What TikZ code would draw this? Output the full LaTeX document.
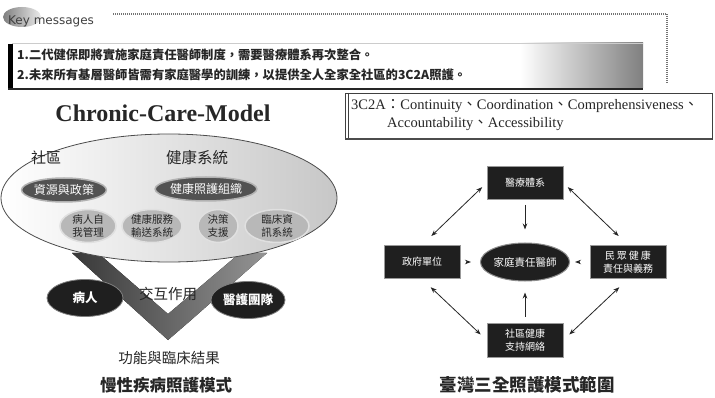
\documentclass[tikz,border=0pt]{standalone}
\usepackage{fontspec}
\setmainfont{Liberation Serif}
\newfontfamily\cjk{Noto Sans CJK TC}
\newfontfamily\kmfont{DejaVu Sans}
\usetikzlibrary{shapes.geometric,arrows.meta}
\newcommand\fsz[2]{\fontsize{#1}{#2}\selectfont}
\newcommand\cj[1]{{\cjk #1}}
\tikzset{
 box/.style={rectangle, fill=black!88, draw=black!40, line width=1pt, minimum width=76pt, minimum height=33pt, text=white, font=\cjk\fsz{10}{13}, align=center, inner sep=1pt},
 arr/.style={-{Stealth[length=6pt,width=4.5pt]}, line width=0.8pt, black!85},
 darr/.style={{Stealth[length=6pt,width=4.5pt]}-{Stealth[length=6pt,width=4.5pt]}, line width=0.8pt, black!85},
 dkell/.style={ellipse, fill=black!68, draw=black!30, line width=1.5pt, text=white, inner sep=0pt, font=\cjk\fsz{12}{14}},
 gyell/.style={ellipse, fill=black!28, draw=black!12, line width=1.5pt, text=black!85, inner sep=0pt, align=center, font=\cjk\fsz{10.5}{13.5}},
 blkell/.style={ellipse, fill=black!88, draw=black!50, line width=0.8pt, text=white, inner sep=0pt, font=\cjk\bfseries\fsz{12.5}{14}},
 lbl/.style={text=black!85, inner sep=0pt},
}
\begin{document}
\begin{tikzpicture}[x=1pt,y=-1pt]
\useasboundingbox (0,0) rectangle (715,398);
\fill[white] (0,0) rectangle (715,398);

% ---------- Key messages ----------
\shade[left color=black!50, right color=black!8] (22,17) ellipse [x radius=19, y radius=10];
\node[anchor=west, font=\kmfont\fsz{12}{14}, text=black!75, inner sep=0pt] (km) at (8,21) {Key messages};
\draw[black!55, line width=1.2pt, dash pattern=on 1pt off 1pt] (113,14) -- (667,14) -- (667,83);
\fill[white] (12,43) rectangle (520,88);
\shade[left color=white, right color=black!50] (520,43) rectangle (643,88);
\draw[black!20, line width=0.6pt] (12,43) -- (643,43);
\fill[black] (8,44) rectangle (13,90);
\draw[black!85, line width=2pt] (8,89) -- (643,89);
\node[anchor=west, lbl, font=\cjk\bfseries\fsz{12.3}{14}] (m1) at (17,55) {1.二代健保即將實施家庭責任醫師制度，需要醫療體系再次整合。};
\node[anchor=west, lbl, font=\cjk\bfseries\fsz{12.3}{14}] (m2) at (17,75) {2.未來所有基層醫師皆需有家庭醫學的訓練，以提供全人全家全社區的3C2A照護。};

% ---------- Chronic Care Model ----------
\node[lbl, font=\bfseries\fsz{24}{26}] (title) at (163,113) {Chronic-Care-Model};
\fill[left color=black!78, right color=black!42]
  (72,253) -- (98,253) -- (168,314) -- (240,253) -- (267,253) -- (190,321) -- (168,340) -- (147,321) -- cycle;
\node[draw=black!70, line width=0.8pt, ellipse, minimum width=336pt, minimum height=128pt,
      left color=white, middle color=white, right color=black!22] (ccm) at (169,198) {};
\node[lbl, font=\cjk\fsz{15}{17}] (sq) at (46,158) {社區};
\node[lbl, font=\cjk\fsz{15.5}{17}] (jk) at (197,158) {健康系統};
\node[dkell, minimum width=78pt, minimum height=24pt] (zy) at (64,190) {資源與政策};
\node[dkell, minimum width=88pt, minimum height=24pt] (zz) at (206,189) {健康照護組織};
\node[gyell, minimum width=56pt, minimum height=29pt] (g1) at (88,226) {病人自\\我管理};
\node[gyell, minimum width=60pt, minimum height=29pt] (g2) at (152,226) {健康服務\\輸送系統};
\node[gyell, minimum width=40pt, minimum height=29pt] (g3) at (218,226) {決策\\支援};
\node[gyell, minimum width=64pt, minimum height=29pt] (g4) at (277,226) {臨床資\\訊系統};
\node[blkell, minimum width=76pt, minimum height=37pt] (br) at (85,298) {病人};
\node[blkell, minimum width=74pt, minimum height=37pt] (yh) at (248,300) {醫護團隊};
\node[lbl, font=\cjk\fsz{14.5}{16}] (hz) at (168,294) {交互作用};
\node[lbl, font=\cjk\fsz{14.5}{16}] (gn) at (169,358) {功能與臨床結果};
\node[lbl, font=\cjk\bfseries\fsz{16.5}{18}] (cap1) at (166,385) {慢性疾病照護模式};

% ---------- 3C2A ----------
\draw[black!75, line width=0.8pt] (345,93) rectangle (712,139);
\draw[black!75, line width=0.6pt] (348.5,93) -- (348.5,139);
\draw[black!70, line width=1.6pt] (345,139) -- (712,139);
\node[anchor=west, lbl, font=\fsz{14.5}{16}] (c1) at (351,106) {3C2A\cj{：}Continuity\cj{、}Coordination\cj{、}Comprehensiveness\cj{、}};
\node[anchor=west, lbl, font=\fsz{14.5}{16}] (c2) at (387,124) {Accountability\cj{、}Accessibility};

% ---------- Taiwan model ----------
\node[box] (top) at (525,183) {醫療體系};
\node[box] (left) at (422,262) {政府單位};
\node[box] (right) at (628,262) {\makebox[46pt][s]{民\hfill 眾\hfill 健\hfill 康}\\責任與義務};
\node[box, minimum height=34pt] (bot) at (525,340) {社區健康\\支持網絡};
\node[ellipse, fill=black!88, draw=black!45, line width=1pt, minimum width=77pt, minimum height=38pt, text=white, inner sep=0pt, font=\cjk\fsz{10.5}{12}] (ctr) at (525,262) {家庭責任醫師};
\node[lbl, font=\cjk\bfseries\fsz{17.5}{19}] (cap2) at (527,385) {臺灣三全照護模式範圍};

\draw[arr, shorten <=5pt, shorten >=13pt] (top.south) -- (ctr.north);
\draw[arr, shorten <=5pt, shorten >=9pt] (left.east) -- (ctr.west);
\draw[arr, shorten <=10pt, shorten >=5pt] (right.west) -- (ctr.east);
\draw[arr, shorten <=6pt, shorten >=11pt] (bot.north) -- (ctr.south);
\draw[darr, shorten <=6pt, shorten >=13pt] (top.west) -- (left.north);
\draw[darr, shorten <=6pt, shorten >=13pt] (top.east) -- (right.north);
\draw[darr, shorten <=12pt, shorten >=8pt] (left.south) -- (bot.west);
\draw[darr, shorten <=12pt, shorten >=8pt] (right.south) -- (bot.east);
\end{tikzpicture}
\end{document}
